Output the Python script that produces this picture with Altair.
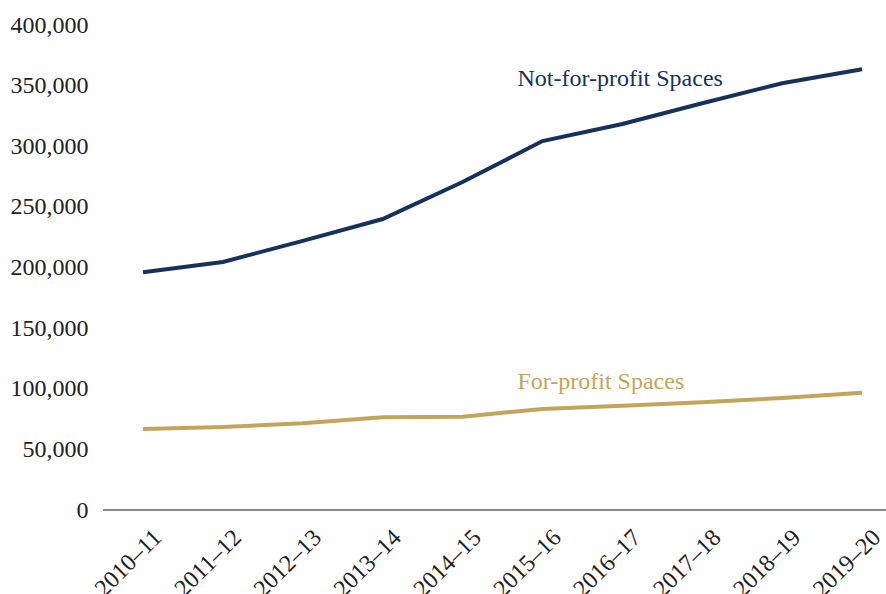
import altair as alt
import pandas as pd

years = ["2010–11", "2011–12", "2012–13", "2013–14", "2014–15",
         "2015–16", "2016–17", "2017–18", "2018–19", "2019–20"]
not_for_profit = [196000, 204500, 222000, 240000, 270500,
                  304300, 318400, 335500, 352000, 363500]
for_profit = [66800, 68500, 71500, 76500, 77000,
              83300, 86000, 88800, 92400, 96700]
y_ticks = [0, 50000, 100000, 150000, 200000, 250000, 300000, 350000, 400000]

series_names = ["Not-for-profit Spaces", "For-profit Spaces"]
colors = ["#17315c", "#c4a45a"]
label_pos = [("2015–16", 350000), ("2015–16", 100000)]

rows = []
for y, a, b in zip(years, not_for_profit, for_profit):
    rows.append({"year": y, "value": a, "series": series_names[0]})
    rows.append({"year": y, "value": b, "series": series_names[1]})
df = pd.DataFrame(rows)

lab = pd.DataFrame({"series": series_names,
                    "year": [p[0] for p in label_pos],
                    "value": [p[1] for p in label_pos]})

W, H = 783, 485
FONT = "Liberation Serif"

xenc = alt.X("year:N", sort=years,
             scale=alt.Scale(type="point", domain=years, range=[40, 759], padding=0),
             axis=alt.Axis(title=None, labelAngle=-45, labelAlign="right",
                           labelBaseline="top", labelPadding=15, labelOffset=6,
                           ticks=False, domain=False, grid=False,
                           labelFont=FONT, labelFontSize=24, labelColor="#222222"))
yenc = alt.Y("value:Q",
             scale=alt.Scale(domain=[0, 400000], nice=False),
             axis=alt.Axis(title=None, values=y_ticks, format=",.0f",
                           ticks=False, domain=False, grid=False,
                           labelPadding=15, labelFont=FONT, labelFontSize=24,
                           labelColor="#222222"))
cscale = alt.Scale(domain=series_names, range=colors)

lines = alt.Chart(df).mark_line(strokeWidth=4).encode(
    x=xenc, y=yenc,
    color=alt.Color("series:N", scale=cscale, legend=None),
)

baseline = alt.Chart(df).mark_rule(color="#8a8a8a", strokeWidth=2).encode(
    x=alt.value(0), x2=alt.value(W + 10), y=alt.value(H)
)

texts = alt.Chart(lab).mark_text(align="left", baseline="alphabetic", dx=-25,
                                 font=FONT, fontSize=24).encode(
    x=alt.X("year:N", sort=years), y=alt.Y("value:Q"),
    text="series:N",
    color=alt.Color("series:N", scale=cscale, legend=None),
)

chart = alt.layer(baseline, lines, texts).properties(
    width=W, height=H,
    background="white",
    autosize=alt.AutoSizeParams(type="none"),
    padding={"left": 103, "top": 25, "right": 0, "bottom": 84},
).configure_view(stroke="transparent", strokeWidth=0)

chart.save("out.html", embed_options={"renderer": "svg", "actions": False})
